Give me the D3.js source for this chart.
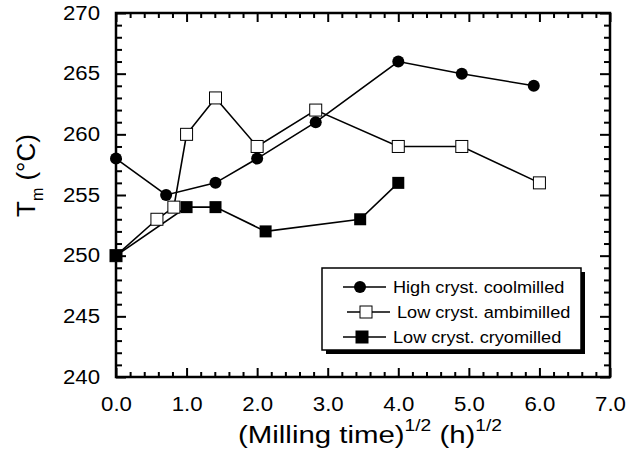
<!DOCTYPE html>
<html><head><meta charset="utf-8">
<script src="https://cdn.jsdelivr.net/npm/d3@7"></script>
<style>body{margin:0;background:#fff} text{font-family:"Liberation Sans",Arial,Helvetica,sans-serif;fill:#000}</style>
</head><body><svg id="c" width="640" height="452"></svg>
<script>
const seriesNames = ["High cryst. coolmilled", "Low cryst. ambimilled", "Low cryst. cryomilled"];
const coolX = [0, 0.71, 1.41, 2.0, 2.83, 4.0, 4.9, 5.92];
const coolY = [258, 255, 256, 258, 261, 266, 265, 264];
const ambiX = [0, 0.58, 0.82, 1.0, 1.41, 2.0, 2.83, 4.0, 4.9, 6.0];
const ambiY = [250, 253, 254, 260, 263, 259, 262, 259, 259, 256];
const cryoX = [0, 1.0, 1.41, 2.12, 3.46, 4.0];
const cryoY = [250, 254, 254, 252, 253, 256];
const xTicks = [0, 1, 2, 3, 4, 5, 6, 7];
const yTicks = [240, 245, 250, 255, 260, 265, 270];

const svg = d3.select("#c");
const L = 116, R = 610, T = 13, B = 377;
const SX = 1.14; // horizontal stretch of the lettering
const x = d3.scaleLinear().domain([0, 7]).range([L, R]);
const y = d3.scaleLinear().domain([240, 270]).range([B, T]);

const xMinor = d3.range(0, 7.001, 0.2).filter(v => Math.abs(v - Math.round(v)) > 1e-6);
const yMinor = d3.range(240, 270.001, 1).filter(v => v % 5 !== 0);

function styleAxis(g) {
  g.select(".domain").remove();
  g.selectAll(".tick line").attr("stroke", "#000").attr("stroke-width", 2);
  g.selectAll("text").style("font-size", "19.5px").attr("fill", "#000").attr("transform", `scale(${SX},1)`);
}
// bottom
svg.append("g").attr("transform", `translate(0,${B})`)
  .call(d3.axisBottom(x).tickValues(xTicks).tickSizeInner(-9).tickSizeOuter(0).tickPadding(20).tickFormat(d3.format(".1f"))).call(styleAxis);
svg.append("g").attr("transform", `translate(0,${B})`)
  .call(d3.axisBottom(x).tickValues(xMinor).tickSizeInner(-5).tickSizeOuter(0).tickFormat("")).call(styleAxis);
// top
svg.append("g").attr("transform", `translate(0,${T})`)
  .call(d3.axisTop(x).tickValues(xTicks).tickSizeInner(-9).tickSizeOuter(0).tickFormat("")).call(styleAxis);
svg.append("g").attr("transform", `translate(0,${T})`)
  .call(d3.axisTop(x).tickValues(xMinor).tickSizeInner(-5).tickSizeOuter(0).tickFormat("")).call(styleAxis);
// left
svg.append("g").attr("transform", `translate(${L},0)`)
  .call(d3.axisLeft(y).tickValues(yTicks).tickSizeInner(-10).tickSizeOuter(0).tickPadding(14)).call(styleAxis);
svg.append("g").attr("transform", `translate(${L},0)`)
  .call(d3.axisLeft(y).tickValues(yMinor).tickSizeInner(-6).tickSizeOuter(0).tickFormat("")).call(styleAxis);
// right
svg.append("g").attr("transform", `translate(${R},0)`)
  .call(d3.axisRight(y).tickValues(yTicks).tickSizeInner(-10).tickSizeOuter(0).tickFormat("")).call(styleAxis);
svg.append("g").attr("transform", `translate(${R},0)`)
  .call(d3.axisRight(y).tickValues(yMinor).tickSizeInner(-6).tickSizeOuter(0).tickFormat("")).call(styleAxis);

// frame
svg.append("rect").attr("x", L).attr("y", T).attr("width", R - L).attr("height", B - T)
  .attr("fill", "none").attr("stroke", "#000").attr("stroke-width", 2.5);

const line = d3.line().x(d => x(d[0])).y(d => y(d[1]));
const cool = coolX.map((v, i) => [v, coolY[i]]);
const ambi = ambiX.map((v, i) => [v, ambiY[i]]);
const cryo = cryoX.map((v, i) => [v, cryoY[i]]);

[ambi, cool, cryo].forEach(s => {
  svg.append("path").datum(s).attr("d", line).attr("fill", "none").attr("stroke", "#000").attr("stroke-width", 1.6);
});
const S = 12;
svg.selectAll(".amb").data(ambi).join("rect").attr("x", d => x(d[0]) - S / 2).attr("y", d => y(d[1]) - S / 2)
  .attr("width", S).attr("height", S).attr("fill", "#fff").attr("stroke", "#000").attr("stroke-width", 1);
svg.selectAll(".cool").data(cool).join("circle").attr("cx", d => x(d[0])).attr("cy", d => y(d[1])).attr("r", 6).attr("fill", "#000");
svg.selectAll(".cryo").data(cryo).join("rect").attr("x", d => x(d[0]) - S / 2).attr("y", d => y(d[1]) - S / 2)
  .attr("width", S).attr("height", S).attr("fill", "#000");

// legend
const lg = svg.append("g");
lg.append("rect").attr("x", 326).attr("y", 272).attr("width", 259).attr("height", 82).attr("fill", "#000");
lg.append("rect").attr("x", 322).attr("y", 268).attr("width", 259).attr("height", 82).attr("fill", "#fff").attr("stroke", "#000").attr("stroke-width", 1.5);
const rows = [287, 312, 337];
const lx1 = [343, 347, 343], lx2 = [386, 390, 386], mx = [360, 366, 362], tx = [393, 397, 393];
rows.forEach((ry, i) => {
  lg.append("line").attr("x1", lx1[i]).attr("x2", lx2[i]).attr("y1", ry).attr("y2", ry).attr("stroke", "#000").attr("stroke-width", 1.6);
  if (i === 0) lg.append("circle").attr("cx", mx[i]).attr("cy", ry).attr("r", 6).attr("fill", "#000");
  else lg.append("rect").attr("x", mx[i] - S / 2).attr("y", ry - S / 2).attr("width", S).attr("height", S)
    .attr("fill", i === 1 ? "#fff" : "#000").attr("stroke", "#000").attr("stroke-width", 1);
  lg.append("text").attr("transform", `translate(${tx[i]},${ry + 6}) scale(1.1,1)`).style("font-size", "16.5px").text(seriesNames[i]);
});

// y title
const yt = svg.append("text").attr("transform", "translate(35,217) rotate(-90)").style("font-size", "26px");
yt.append("tspan").text("T");
yt.append("tspan").attr("dy", 8).style("font-size", "16px").text("m");
yt.append("tspan").attr("dy", -8).text(" (°C)");

// x title
const xt = svg.append("text").attr("transform", `translate(370,443) scale(1.2,1)`).attr("text-anchor", "middle").style("font-size", "24.5px");
xt.append("tspan").text("(Milling time)");
xt.append("tspan").attr("dy", -12).style("font-size", "16px").text("1/2");
xt.append("tspan").attr("dy", 12).text(" (h)");
xt.append("tspan").attr("dy", -12).style("font-size", "16px").text("1/2");
</script></body></html>
